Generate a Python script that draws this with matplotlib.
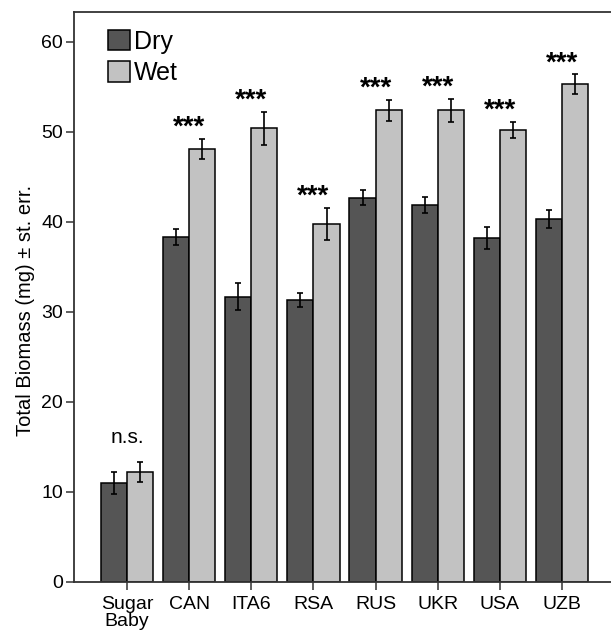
import numpy as np
import matplotlib
matplotlib.use('Agg')
import matplotlib.pyplot as plt
from matplotlib.patches import Patch

plt.rcParams['font.family'] = ['Liberation Sans', 'DejaVu Sans']

groups = ['Sugar\nBaby', 'CAN', 'ITA6', 'RSA', 'RUS', 'UKR', 'USA', 'UZB']
dry = [11.0, 38.3, 31.7, 31.3, 42.7, 41.9, 38.2, 40.3]
dry_err = [1.2, 0.9, 1.5, 0.8, 0.8, 0.9, 1.2, 1.0]
wet = [12.2, 48.1, 50.4, 39.8, 52.4, 52.4, 50.2, 55.3]
wet_err = [1.1, 1.1, 1.8, 1.8, 1.2, 1.3, 0.9, 1.1]
sig = ['n.s.', '***', '***', '***', '***', '***', '***', '***']

dark = '#555555'
light = '#c2c2c2'
w = 0.42
x = np.arange(len(groups))

fig = plt.figure(figsize=(6.11, 6.35), dpi=100)
ax = fig.add_axes([0.1211, 0.0835, 0.8789, 0.8976])

ax.bar(x - w/2, dry, w, color=dark, edgecolor='black', linewidth=1.1)
ax.bar(x + w/2, wet, w, color=light, edgecolor='black', linewidth=1.1)
ax.errorbar(x - w/2, dry, yerr=dry_err, fmt='none', ecolor='black',
            elinewidth=1.2, capsize=2.5, capthick=1.2)
ax.errorbar(x + w/2, wet, yerr=wet_err, fmt='none', ecolor='black',
            elinewidth=1.2, capsize=2.5, capthick=1.2)

for i in range(len(groups)):
    top = max(dry[i] + dry_err[i], wet[i] + wet_err[i])
    if sig[i] == 'n.s.':
        ax.annotate(sig[i], (x[i], top), xytext=(0, 18), textcoords='offset points',
                    ha='center', va='center', fontsize=15)
    else:
        ax.annotate(sig[i], (x[i], top), xytext=(0, 8), textcoords='offset points',
                    ha='center', va='center', fontsize=20, fontweight='bold')

ax.set_xlim(-0.855, 7.79)
ax.set_ylim(0, 63.33)
ax.set_xticks(x)
ax.set_xticklabels(groups, fontsize=14, linespacing=1.0)
ax.set_yticks([0, 10, 20, 30, 40, 50, 60])
ax.tick_params(axis='both', labelsize=14, length=6, width=1.1, color='#333333', pad=2)
ax.tick_params(axis='x', pad=4)
ax.set_ylabel('Total Biomass (mg) ± st. err.', fontsize=14.5, labelpad=4)
ax.yaxis.label.set_y(0.477)

ax.spines['right'].set_visible(False)
for s in ['left', 'top', 'bottom']:
    ax.spines[s].set_linewidth(1.3)
    ax.spines[s].set_color('#333333')

handles = [Patch(facecolor=dark, edgecolor='black', linewidth=1.1, label='Dry'),
           Patch(facecolor=light, edgecolor='black', linewidth=1.1, label='Wet')]
ax.legend(handles=handles, loc='upper left', bbox_to_anchor=(0.03, 1.0), frameon=False,
          fontsize=18, handlelength=0.9, handleheight=0.9, handletextpad=0.15,
          labelspacing=0.3, borderaxespad=0.3)

fig.savefig('out.png', dpi=100)
